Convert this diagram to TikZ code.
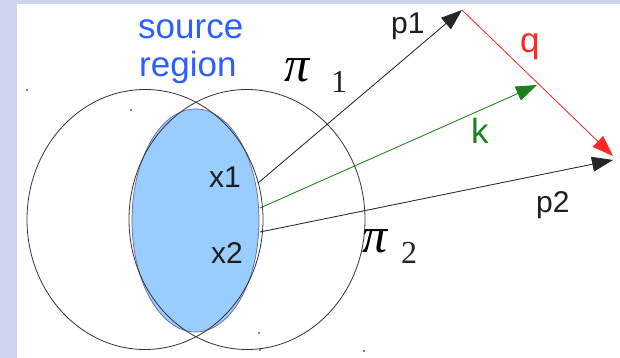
\documentclass[tikz,border=0pt]{standalone}
\usepackage{fontspec}
\setmainfont{Liberation Sans}
\newfontfamily\seriffont{Liberation Serif}
\usetikzlibrary{arrows.meta}
\definecolor{srcblue}{RGB}{45,95,255}
\definecolor{fillblue}{RGB}{153,204,255}
\definecolor{kgreen}{RGB}{25,130,25}
\definecolor{qred}{RGB}{255,40,40}
\definecolor{bgblue}{RGB}{205,212,238}
\definecolor{txt}{RGB}{30,30,30}
\tikzset{
  ring/.style={draw=black!80, line width=0.8pt},
  vec/.style={line width=0.8pt, -{Triangle[length=21pt,width=15pt]}},
  lbl/.style={inner sep=0pt, anchor=base west, text=txt, font=\fontsize{30}{30}\selectfont},
  biglbl/.style={inner sep=0pt, anchor=base west, font=\fontsize{35}{35}\selectfont},
  pilbl/.style={inner sep=0pt, anchor=base west, text=black, font=\seriffont\itshape\fontsize{50}{50}\selectfont},
  sublbl/.style={inner sep=0pt, anchor=base west, text=black!85, font=\seriffont\fontsize{32}{32}\selectfont},
  dotmark/.style={fill=black, draw=none}
}
\begin{document}
\begin{tikzpicture}[x=1pt, y=-1pt]
\useasboundingbox (0,0) rectangle (620,358);
\fill[bgblue] (0,0) rectangle (620,358);
\fill[white] (17,4) rectangle (620,358);
% source region
\filldraw[fill=fillblue, draw=black!60!blue!60, line width=0.7pt] (195.5,220.5) ellipse [x radius=63.5pt, y radius=111.5pt];
% two circles
\draw[ring] (145,219.5) ellipse [x radius=118pt, y radius=130pt];
\draw[ring] (247,219.5) ellipse [x radius=118pt, y radius=130pt];
% stray dots
\foreach \px/\py in {27/90,131/110,259/333,260/350,364/351}
  \fill[dotmark] (\px,\py) circle (0.8pt);
% points
\coordinate (x1) at (258,183);
\coordinate (xk) at (260,208);
\coordinate (x2) at (260,232);
\coordinate (p1tip) at (462,10);
\coordinate (ktip) at (537,85);
\coordinate (p2tip) at (613,160);
\coordinate (qtip) at (613,156);
% vectors
\draw[vec, draw=black!85, fill=black] (x1) -- (p1tip);
\draw[vec, draw=kgreen, fill=kgreen] (xk) -- (ktip);
\draw[vec, draw=black!85, fill=black] (x2) -- (p2tip);
\draw[vec, draw=qred, fill=qred] (p1tip) -- (qtip);
% labels
\node[biglbl, text=srcblue] (src1) at (138,39) {source};
\node[biglbl, text=srcblue] (src2) at (139,77) {region};
\node[pilbl] (pi1) at (284,82) {π};
\node[sublbl] (one) at (331,93) {1};
\node[pilbl] (pi2) at (362,252) {π};
\node[sublbl] (two) at (401,263) {2};
\node[lbl] (lp1) at (391,34) {p1};
\node[biglbl, text=qred] (lq) at (520,53) {q};
\node[biglbl, text=kgreen] (lk) at (471,144) {k};
\node[lbl] (lx1) at (209,187) {x1};
\node[lbl] (lx2) at (211,263) {x2};
\node[lbl] (lp2) at (536,212) {p2};
\end{tikzpicture}
\end{document}
